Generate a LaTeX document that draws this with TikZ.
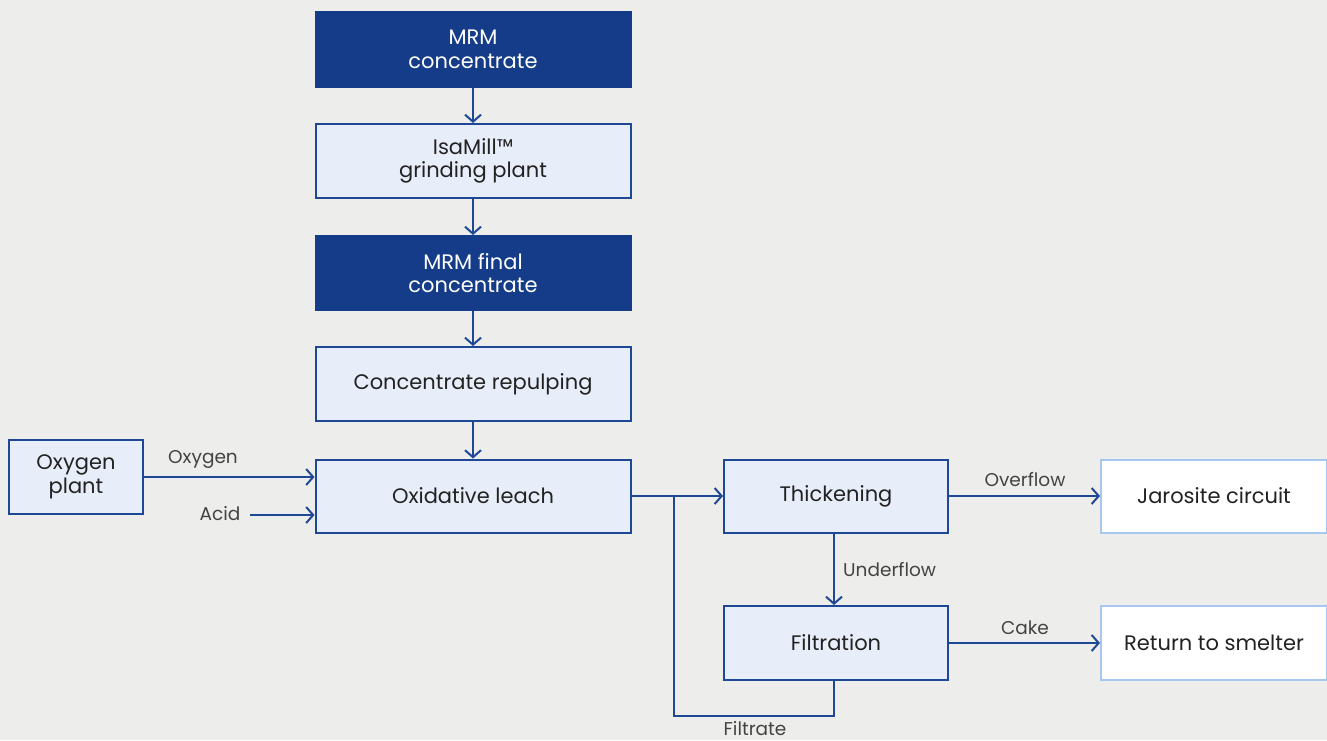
\documentclass[tikz,border=0pt]{standalone}
\usepackage{fontspec}
\setmainfont{Poppins}
\usetikzlibrary{arrows.meta}
\definecolor{bg}{HTML}{EDEDEB}
\definecolor{dark}{HTML}{143C89}
\definecolor{light}{HTML}{E8EEF9}
\definecolor{edge}{HTML}{1E4796}
\definecolor{pale}{HTML}{A8C7EE}
\definecolor{txt}{HTML}{222222}
\tikzset{
  box/.style={draw=edge, line width=2pt, fill=light, text=txt, align=center, font=\fontsize{21}{23.5}\selectfont, inner sep=0pt},
  darkbox/.style={box, fill=dark, draw=dark, text=white},
  outbox/.style={box, fill=white, draw=pale},
  flow/.style={draw=edge, line width=2pt, -{Straight Barb[length=7pt,width=16pt,line width=2pt]}},
  line/.style={draw=edge, line width=2pt},
  lbl/.style={text=txt!85, font=\fontsize{18.5}{21}\selectfont, inner sep=0pt}
}
\begin{document}
\begin{tikzpicture}[x=1pt,y=-1pt]
\fill[bg] (0,0) rectangle (1327,740);
\useasboundingbox (0,0) rectangle (1327,740);
\node[darkbox, minimum width=315pt, minimum height=75pt] (mrm) at (473,49.5) {MRM\\concentrate};
\node[box, minimum width=315pt, minimum height=74pt] (isa) at (473,161) {IsaMill™\\grinding plant};
\node[darkbox, minimum width=315pt, minimum height=74pt] (fin) at (473,273) {MRM final\\concentrate};
\node[box, minimum width=315pt, minimum height=74pt] (rep) at (473,384) {Concentrate repulping};
\node[box, minimum width=315pt, minimum height=73pt] (leach) at (473,496) {Oxidative leach};
\node[box, minimum width=134pt, minimum height=74pt] (oxy) at (76,477) {Oxygen\\plant};
\node[box, minimum width=224pt, minimum height=73pt] (thick) at (836,496) {Thickening};
\node[box, minimum width=224pt, minimum height=74pt] (filt) at (836,643) {Filtration};
\node[outbox, minimum width=226pt, minimum height=73pt] (jar) at (1214,496) {Jarosite circuit};
\node[outbox, minimum width=226pt, minimum height=74pt] (ret) at (1214,643) {Return to smelter};

\draw[flow] (mrm) -- (isa);
\draw[flow] (isa) -- (fin);
\draw[flow] (fin) -- (rep);
\draw[flow] (rep) -- (leach);

\coordinate (oxin) at (leach.west |- oxy.east);
\draw[flow] (oxy.east) -- (oxin);
\node[lbl] (loxy) at (203,459) {Oxygen};
\node[lbl] (lacid) at (220,514) {Acid};
\coordinate (acidin) at (leach.west |- 0,515);
\draw[flow] (250,515) coordinate (acidstart) -- (acidin);

\draw[flow] (leach.east) -- (thick.west);
\coordinate (br) at (674,496);
\coordinate (bl) at (674,716);
\coordinate (brr) at (834,716);
\draw[line] (br) -- (bl) -- (brr) -- (filt.south -| brr);
\node[lbl] (lfilt) at (755,729) {Filtrate};

\draw[flow] (thick.south -| 834,0) -- (filt.north -| 834,0);
\node[lbl, anchor=west] (lund) at (843,570) {Underflow};

\draw[flow] (thick.east) -- (jar.west);
\node[lbl] (lover) at (1025,480) {Overflow};
\draw[flow] (filt.east) -- (ret.west);
\node[lbl] (lcake) at (1025,628) {Cake};
\end{tikzpicture}
\end{document}
